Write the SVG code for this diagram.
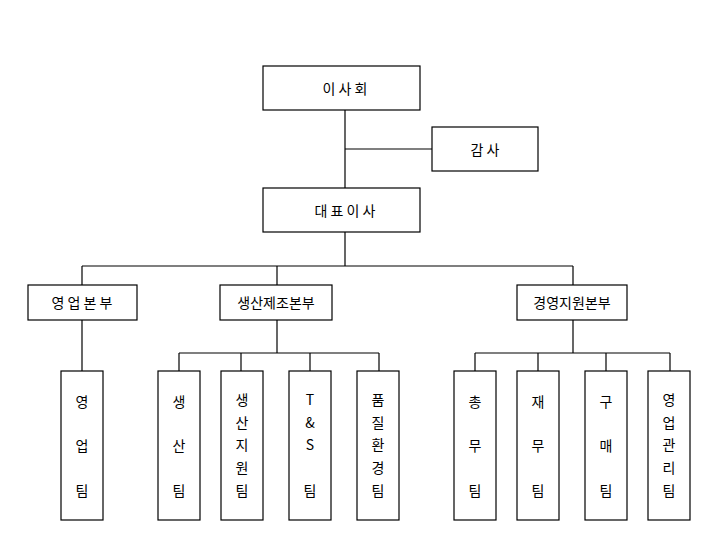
<svg xmlns="http://www.w3.org/2000/svg" width="718" height="544" viewBox="0 0 718 544">
<style>
rect{fill:#fff;stroke:#000;stroke-width:1.2}
text{font-family:"Noto Sans CJK KR","Noto Sans",sans-serif;font-size:14px;fill:#000;text-anchor:middle;dominant-baseline:central}
.c line{stroke:#000;stroke-width:1.2}
</style>
<rect x="0" y="0" width="718" height="544" style="stroke:none"/>
<g class="c">
<line x1="345" y1="110" x2="345" y2="188"/>
<line x1="345" y1="149" x2="432" y2="149"/>
<line x1="345" y1="232" x2="345" y2="266"/>
<line x1="82" y1="266" x2="573" y2="266"/>
<line x1="82" y1="266" x2="82" y2="285"/>
<line x1="277" y1="266" x2="277" y2="285"/>
<line x1="573" y1="266" x2="573" y2="285"/>
<line x1="82" y1="320" x2="82" y2="371"/>
<line x1="277" y1="320" x2="277" y2="353"/>
<line x1="179" y1="353" x2="379" y2="353"/>
<line x1="179" y1="353" x2="179" y2="371"/>
<line x1="241" y1="353" x2="241" y2="371"/>
<line x1="310" y1="353" x2="310" y2="371"/>
<line x1="379" y1="353" x2="379" y2="371"/>
<line x1="573" y1="320" x2="573" y2="353"/>
<line x1="475" y1="353" x2="670" y2="353"/>
<line x1="475" y1="353" x2="475" y2="371"/>
<line x1="538" y1="353" x2="538" y2="371"/>
<line x1="606" y1="353" x2="606" y2="371"/>
<line x1="670" y1="353" x2="670" y2="371"/>
</g>
<g id="board"><rect x="263" y="66" width="157" height="44"/><text x="345" y="88">이 사 회</text></g>
<g id="audit"><rect x="432" y="127" width="106" height="44"/><text x="485" y="149">감 사</text></g>
<g id="ceo"><rect x="263" y="188" width="157" height="44"/><text x="345" y="210">대 표 이 사</text></g>
<g id="sales"><rect x="28" y="285" width="109" height="35"/><text x="82" y="302">영 업 본 부</text></g>
<g id="prod"><rect x="220" y="285" width="112" height="35"/><text x="276" y="302">생산제조본부</text></g>
<g id="mgmt"><rect x="517" y="285" width="110" height="35"/><text x="572" y="302">경영지원본부</text></g>
<g id="t1"><rect x="61" y="371" width="42" height="149"/><text x="82" y="401">영</text><text x="82" y="445">업</text><text x="82" y="490">팀</text></g>
<g id="t2"><rect x="158" y="371" width="42" height="149"/><text x="179" y="401">생</text><text x="179" y="445">산</text><text x="179" y="490">팀</text></g>
<g id="t3"><rect x="221" y="371" width="42" height="149"/><text x="242" y="399">생</text><text x="242" y="422">산</text><text x="242" y="444">지</text><text x="242" y="467">원</text><text x="242" y="490">팀</text></g>
<g id="t4"><rect x="289" y="371" width="42" height="149"/><text x="310" y="399">T</text><text x="310" y="422">&amp;</text><text x="310" y="444">S</text><text x="310" y="490">팀</text></g>
<g id="t5"><rect x="357" y="371" width="42" height="149"/><text x="378" y="399">품</text><text x="378" y="422">질</text><text x="378" y="444">환</text><text x="378" y="467">경</text><text x="378" y="490">팀</text></g>
<g id="t6"><rect x="454" y="371" width="42" height="149"/><text x="475" y="401">총</text><text x="475" y="445">무</text><text x="475" y="490">팀</text></g>
<g id="t7"><rect x="517" y="371" width="42" height="149"/><text x="538" y="401">재</text><text x="538" y="445">무</text><text x="538" y="490">팀</text></g>
<g id="t8"><rect x="585" y="371" width="42" height="149"/><text x="606" y="401">구</text><text x="606" y="445">매</text><text x="606" y="490">팀</text></g>
<g id="t9"><rect x="648" y="371" width="42" height="149"/><text x="669" y="399">영</text><text x="669" y="422">업</text><text x="669" y="444">관</text><text x="669" y="467">리</text><text x="669" y="490">팀</text></g>
</svg>
